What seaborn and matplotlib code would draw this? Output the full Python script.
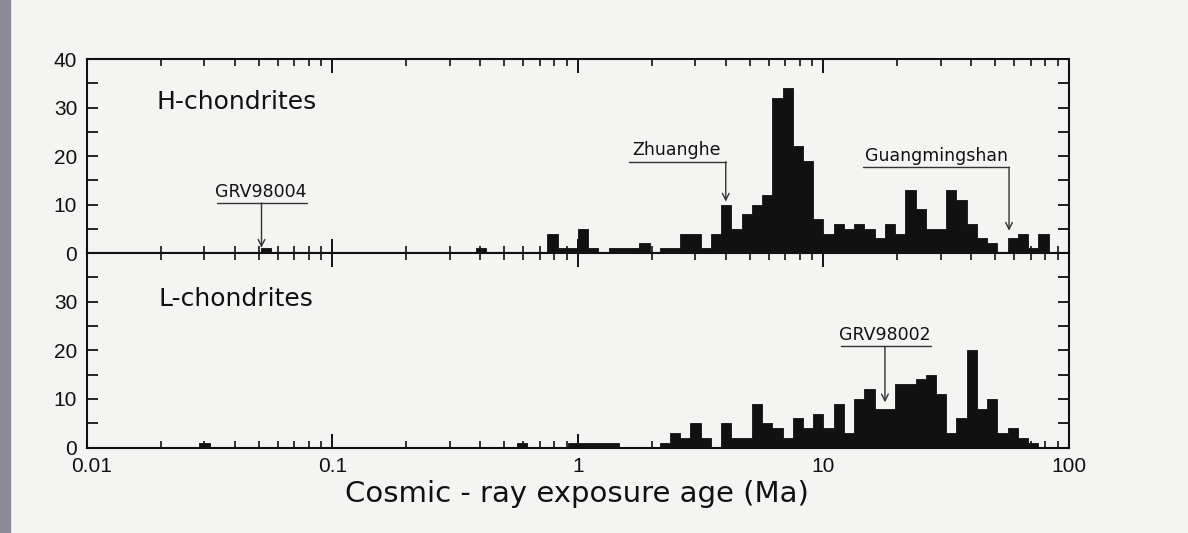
import numpy as np
import matplotlib
matplotlib.use("Agg")
import matplotlib.pyplot as plt
import matplotlib.transforms as mtransforms
import seaborn as sns
from matplotlib.ticker import FixedLocator, LogLocator, NullFormatter, MultipleLocator
from matplotlib.patches import Rectangle

# ---------------- data ----------------
BINS_PER_DECADE = 24          # histogram bins are 1/24 decade wide, aligned on decades
# bin index j covers [10**(j/24), 10**((j+1)/24)] Ma
H_BIN = [-31, -10, -3, -2, -1, 0, 1, 3, 4, 5, 6, 8, 9, 10, 11, 12, 13, 14, 15, 16,
         17, 18, 19, 20, 21, 22, 23, 24, 25, 26, 27, 28, 29, 30, 31, 32, 33, 34, 35,
         36, 37, 38, 39, 40, 42, 43, 44, 45]
H_COUNT = [1, 1, 4, 1, 1, 5, 1, 1, 1, 1, 2, 1, 1, 4, 4, 1, 4, 10, 5, 8,
           10, 12, 32, 34, 22, 19, 7, 4, 6, 5, 6, 5, 3, 6, 4, 13, 9, 5, 5,
           13, 11, 6, 3, 2, 3, 4, 1, 4]

L_BIN = [-37, -6, -1, 0, 1, 2, 3, 8, 9, 10, 11, 12, 14, 15, 16, 17, 18, 19, 20,
         21, 22, 23, 24, 25, 26, 27, 28, 29, 30, 31, 32, 33, 34, 35, 36, 37, 38,
         39, 40, 41, 42, 43, 44]
L_COUNT = [1, 1, 1, 1, 1, 1, 1, 1, 3, 2, 5, 2, 5, 2, 2, 9, 5, 4, 2,
           6, 4, 7, 4, 9, 3, 10, 12, 8, 8, 13, 13, 14, 15, 11, 3, 6, 20,
           8, 10, 3, 4, 2, 1]

PANEL_NAMES = ["H-chondrites", "L-chondrites"]
X_TICK_VALUES = [0.01, 0.1, 1, 10, 100]
X_TICK_LABELS = ["0.01", "0.1", "1", "10", "100"]
Y_TICKS_TOP = [0, 10, 20, 30, 40]
Y_TICKS_BOTTOM = [0, 10, 20, 30]
X_LABEL = "Cosmic - ray exposure age (Ma)"

# annotations: name, panel, underline start, underline end, arrow x, underline y, arrow tip y, text x
NOTE_NAME = ["GRV98004", "Zhuanghe", "Guangmingshan", "GRV98002"]
NOTE_PANEL = [0, 0, 0, 1]
NOTE_LINE_X0 = [0.034, 1.61, 14.5, 11.8]
NOTE_LINE_X1 = [0.079, 4.0, 57.0, 27.3]
NOTE_ARROW_X = [0.0514, 4.0, 57.0, 17.8]
NOTE_LINE_Y = [10.3, 18.8, 17.7, 20.8]
NOTE_TIP_Y = [1.1, 10.6, 4.6, 9.3]
NOTE_TEXT_X = [0.051, 2.53, 28.8, 17.8]

# ---------------- style ----------------
PAPER = "#f4f4f2"
INK = "#111111"
TICK_FONT = ["Liberation Sans", "DejaVu Sans"]

sns.set_style("ticks")
plt.rcParams["font.family"] = ["DejaVu Sans"]

fig = plt.figure(figsize=(11.88, 5.33), dpi=100, facecolor=PAPER)
fig.patches.append(Rectangle((0, 0), 10 / 1188, 1, transform=fig.transFigure,
                             color="#8d8b96", zorder=0))

ax_top = fig.add_axes([0.0732, 0.5253, 0.8266, 0.364])
ax_bot = fig.add_axes([0.0732, 0.1603, 0.8266, 0.365])

edges_log = (np.arange(-2 * BINS_PER_DECADE, 2 * BINS_PER_DECADE + 1) / BINS_PER_DECADE).tolist()

for ax, bins, counts, name, yt in [
    (ax_top, H_BIN, H_COUNT, PANEL_NAMES[0], Y_TICKS_TOP),
    (ax_bot, L_BIN, L_COUNT, PANEL_NAMES[1], Y_TICKS_BOTTOM),
]:
    ax.set_facecolor(PAPER)
    centers = 10 ** ((np.array(bins) + 0.5) / BINS_PER_DECADE)
    sns.histplot(x=centers, weights=counts, bins=edges_log, log_scale=True,
                 element="step", fill=True, color=INK, alpha=1.0, linewidth=0.6,
                 ax=ax)
    ax.set_xlim(0.01, 100)
    ax.set_ylim(0, 40)
    ax.set_xlabel("")
    ax.set_ylabel("")
    for sp in ax.spines.values():
        sp.set_visible(True)
        sp.set_linewidth(1.5)
        sp.set_color(INK)
    ax.xaxis.set_major_locator(FixedLocator(X_TICK_VALUES))
    ax.xaxis.set_minor_locator(LogLocator(base=10, subs=np.arange(2, 10)))
    ax.xaxis.set_minor_formatter(NullFormatter())
    ax.tick_params(axis="x", which="major", direction="in", length=10, width=1.4,
                   top=True, bottom=True, color=INK, pad=7)
    ax.tick_params(axis="x", which="minor", direction="in", length=5, width=1.2,
                   top=True, bottom=True, color=INK)
    ax.yaxis.set_major_locator(FixedLocator(yt))
    ax.yaxis.set_minor_locator(MultipleLocator(5))
    ax.tick_params(axis="y", which="both", direction="in", length=8, width=1.3,
                   left=True, right=True, color=INK, pad=7)
    for lab in ax.get_yticklabels():
        lab.set_family(TICK_FONT)
        lab.set_fontsize(15)
        lab.set_color(INK)
    ax.text(0.152, 0.78 if ax is ax_top else 0.765, name, transform=ax.transAxes,
            ha="center", va="center", fontsize=18, color=INK)

ax_top.tick_params(axis="x", labelbottom=False)
ax_bot.set_xticks(X_TICK_VALUES)
ax_bot.set_xticklabels(X_TICK_LABELS)
for lab in ax_bot.get_xticklabels():
    lab.set_family(TICK_FONT)
    lab.set_fontsize(15)
    lab.set_color(INK)
# the first x label sits slightly right of the axis corner, as in the scan
first = ax_bot.get_xticklabels()[0]
first.set_transform(first.get_transform() +
                    mtransforms.ScaledTranslation(5 / 100, 0, fig.dpi_scale_trans))

axes = [ax_top, ax_bot]
for i, nm in enumerate(NOTE_NAME):
    ax = axes[NOTE_PANEL[i]]
    ax.plot([NOTE_LINE_X0[i], NOTE_LINE_X1[i]], [NOTE_LINE_Y[i], NOTE_LINE_Y[i]],
            color="#333333", lw=1.0)
    ax.annotate("", xy=(NOTE_ARROW_X[i], NOTE_TIP_Y[i]),
                xytext=(NOTE_ARROW_X[i], NOTE_LINE_Y[i]),
                arrowprops=dict(arrowstyle="->", color="#333333", lw=1.0,
                                shrinkA=0, shrinkB=0, mutation_scale=12))
    ax.text(NOTE_TEXT_X[i], NOTE_LINE_Y[i] + 0.5, nm, ha="center", va="bottom",
            fontsize=12.5, color=INK)

fig.text(0.4857, 0.073, X_LABEL, ha="center", va="center", fontsize=21, color=INK)

fig.savefig("out.png", dpi=100, facecolor=PAPER)
